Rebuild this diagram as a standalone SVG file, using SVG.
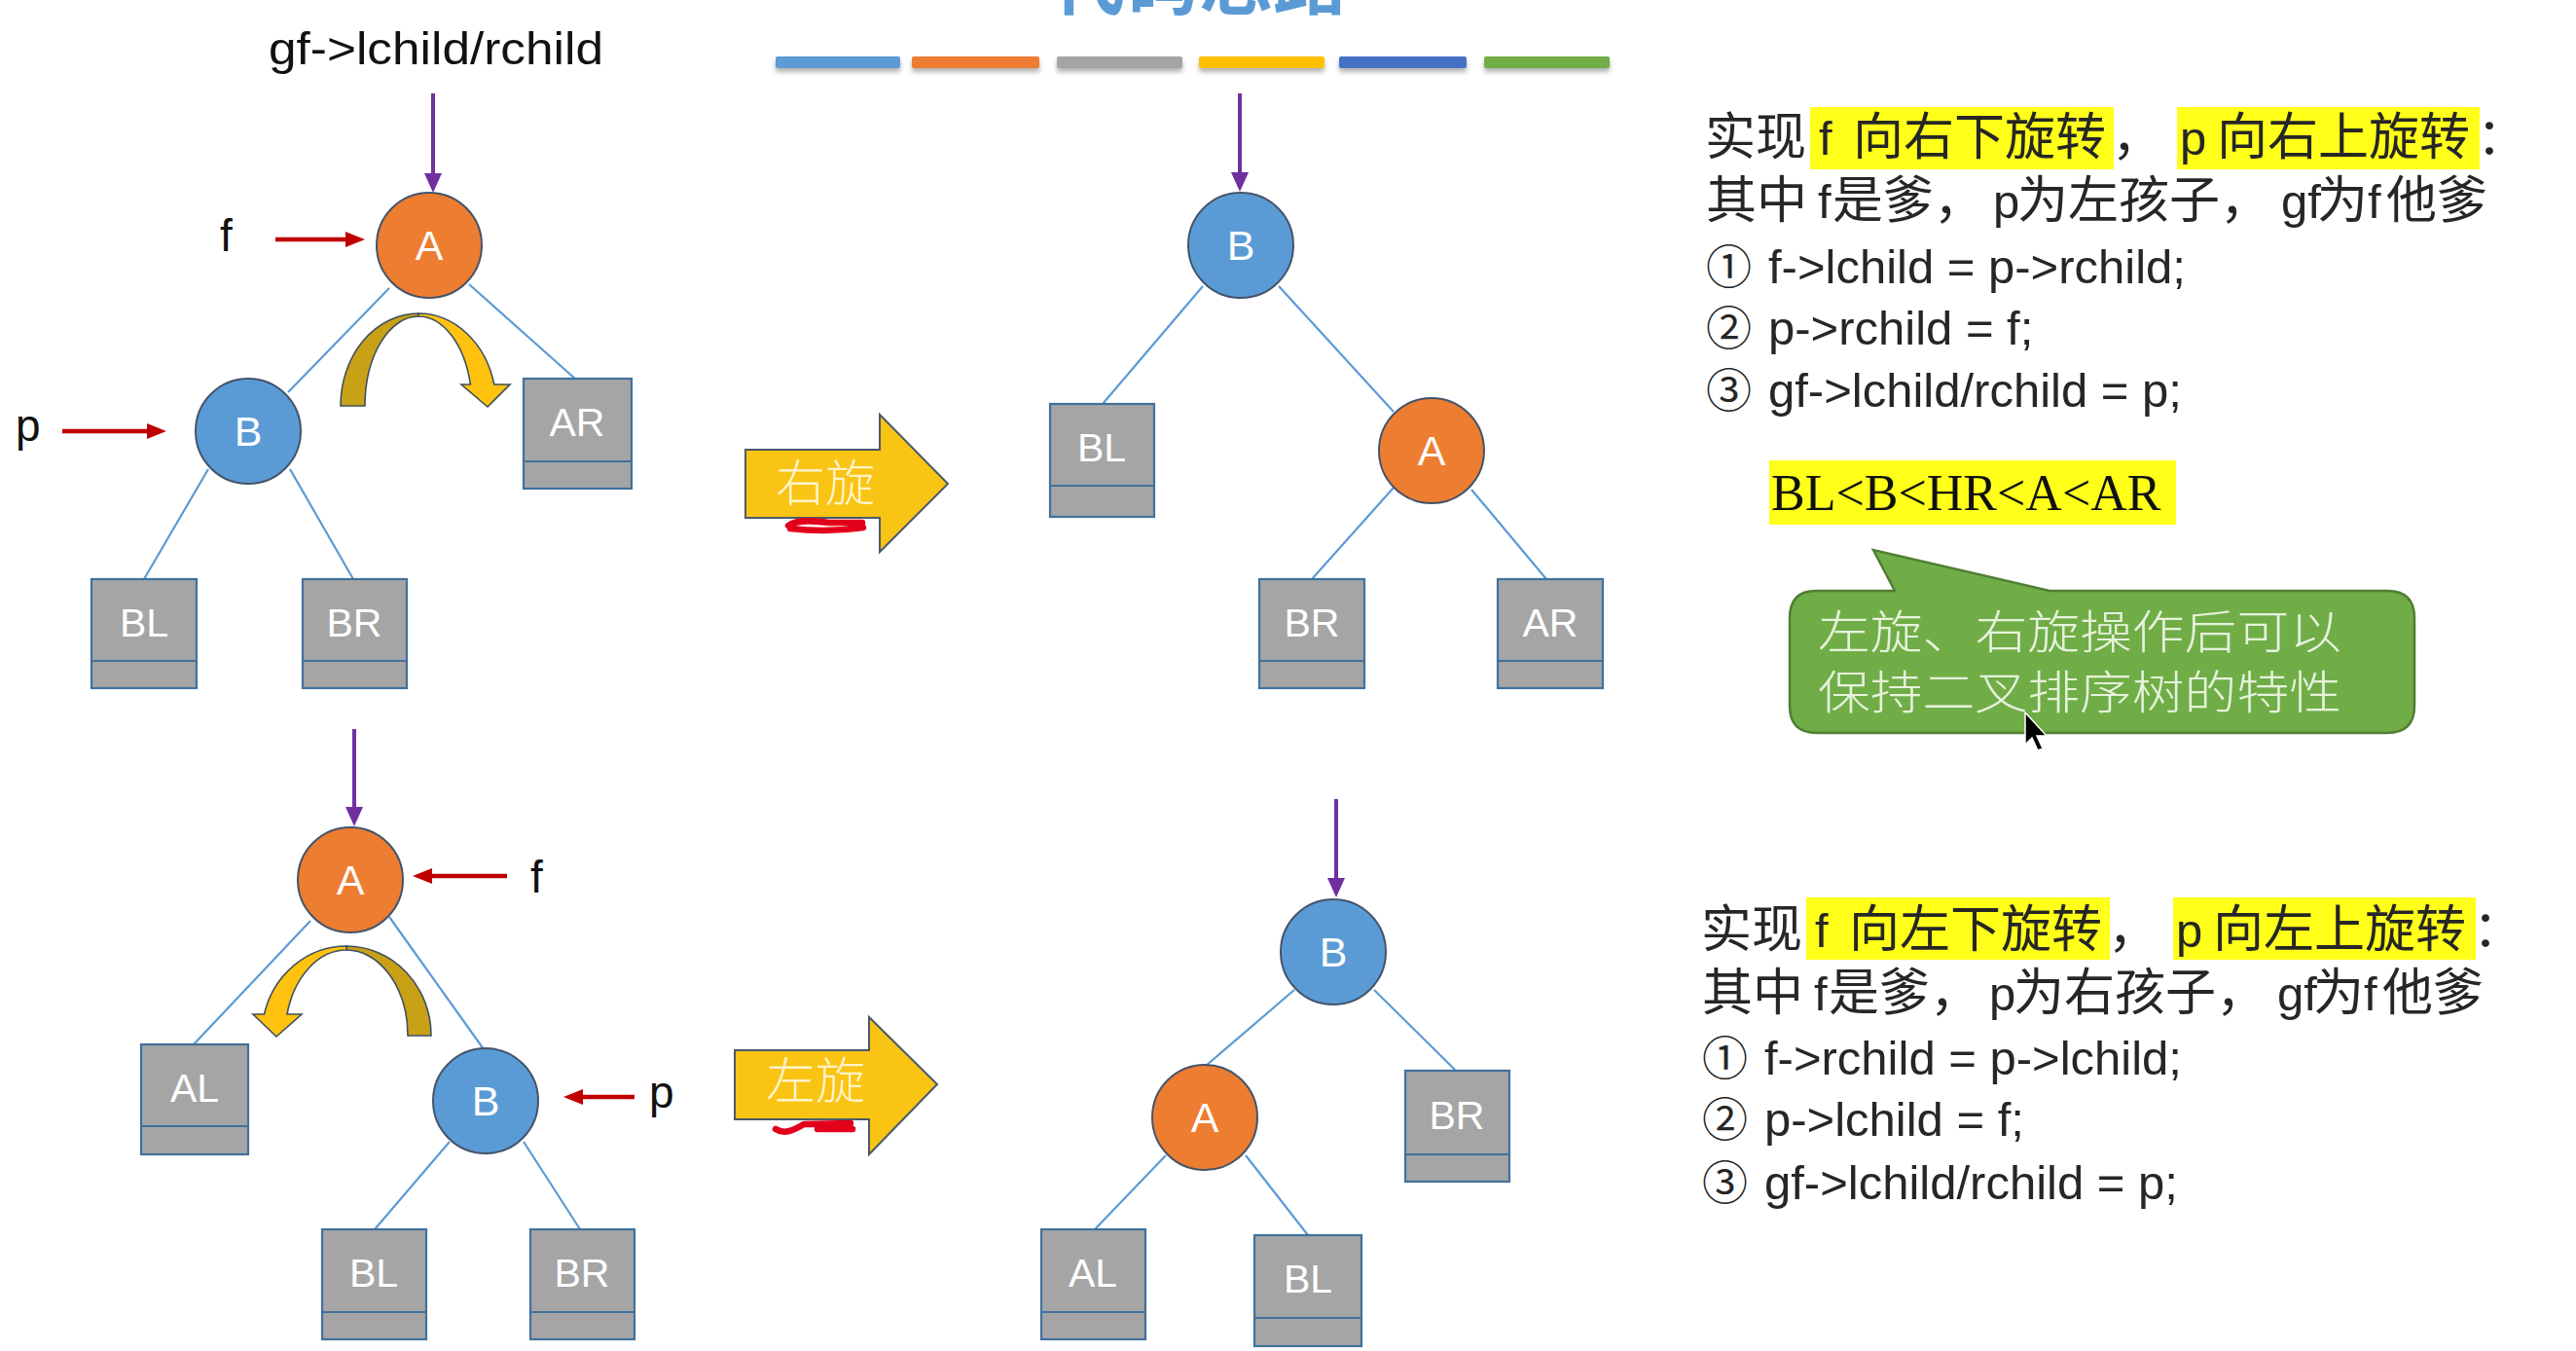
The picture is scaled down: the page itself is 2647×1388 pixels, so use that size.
<svg xmlns="http://www.w3.org/2000/svg" width="2647" height="1388" viewBox="0 0 2647 1388">
<style>
.edge{stroke:#5B9BD5;stroke-width:2.2;fill:none}
.nA{fill:#ED7D31;stroke:#44546A;stroke-width:2}
.nB{fill:#5B9BD5;stroke:#44546A;stroke-width:2}
.box{fill:#A5A5A5;stroke:#41719C;stroke-width:2.2}
.div{stroke:#41719C;stroke-width:2.2}
.lbl{font-family:"Liberation Sans",Arial,sans-serif;font-size:43px;fill:#FFFFFF;text-anchor:middle}
.blbl{font-family:"Liberation Sans",Arial,sans-serif;font-size:41px;fill:#FFFFFF;text-anchor:middle}
.ptr{font-family:"Liberation Sans",Arial,sans-serif;font-size:46px;fill:#111}
.purple{stroke:#7030A0;stroke-width:4;fill:none}
.red{stroke:#C00000;stroke-width:4.5;fill:none}
.t{font-family:"Liberation Sans",Arial,"Noto Sans CJK SC",sans-serif;font-size:49px;fill:#262626}
.cj{font-family:"Noto Sans CJK SC","Noto Sans CJK TC",sans-serif;font-size:52px}
.cn{font-family:"Noto Sans CJK SC","Noto Sans CJK TC",sans-serif;font-size:47px}
.hl{fill:#FFFF1A}
.dk{fill:#C9A116;stroke:#3F5060;stroke-width:1.6}
.lt{fill:#FFC20E;stroke:#3F5060;stroke-width:1.6}
.blk{fill:#F9C414;stroke:#4A5A6A;stroke-width:2}
.blkt{font-family:"Noto Sans CJK SC",sans-serif;font-size:51px;fill:#FFF3C8;font-weight:300}
.scrib{stroke:#E3001B;stroke-width:6.5;fill:none;stroke-linecap:round;stroke-linejoin:round}
.bar{filter:url(#sh)}
</style>
<defs>
<filter id="sh" x="-5%" y="-60%" width="110%" height="260%">
<feDropShadow dx="0" dy="4" stdDeviation="2.5" flood-color="#000" flood-opacity="0.3"/>
</filter>
<marker id="mp" markerUnits="userSpaceOnUse" viewBox="0 0 20 18" markerWidth="20" markerHeight="18" refX="6" refY="9" orient="auto">
<path d="M0,0 L20,9 L0,18 Z" fill="#7030A0"/>
</marker>
<marker id="mr" markerUnits="userSpaceOnUse" viewBox="0 0 20 16" markerWidth="20" markerHeight="16" refX="6" refY="8" orient="auto">
<path d="M0,0 L20,8 L0,16 Z" fill="#C00000"/>
</marker>
</defs>
<rect width="2647" height="1388" fill="#FFFFFF"/>

<!-- title (cut off at the top edge, as in the picture) -->
<text x="1232" y="9" font-family="'Noto Sans CJK SC',sans-serif" font-size="76" font-weight="700" fill="#5B9BD5" text-anchor="middle">代码思路</text>

<!-- colour bars -->
<g id="bars">
<rect class="bar" x="797" y="58" width="128" height="12" rx="2" fill="#5B9BD5"/>
<rect class="bar" x="937" y="58" width="131" height="12" rx="2" fill="#ED7D31"/>
<rect class="bar" x="1086" y="58" width="129" height="12" rx="2" fill="#A5A5A5"/>
<rect class="bar" x="1232" y="58" width="129" height="12" rx="2" fill="#FFC000"/>
<rect class="bar" x="1376" y="58" width="131" height="12" rx="2" fill="#4472C4"/>
<rect class="bar" x="1525" y="58" width="129" height="12" rx="2" fill="#70AD47"/>
</g>

<!-- connectors -->
<g id="connectors">
<line class="edge" x1="400" y1="296" x2="296" y2="403"/>
<line class="edge" x1="482" y1="292" x2="592" y2="390"/>
<line class="edge" x1="214" y1="482" x2="148" y2="595"/>
<line class="edge" x1="298" y1="482" x2="363" y2="595"/>
<line class="edge" x1="1236" y1="294" x2="1133" y2="415"/>
<line class="edge" x1="1314" y1="294" x2="1432" y2="423"/>
<line class="edge" x1="1432" y1="501" x2="1348" y2="595"/>
<line class="edge" x1="1512" y1="503" x2="1589" y2="595"/>
<line class="edge" x1="319" y1="946" x2="199" y2="1073"/>
<line class="edge" x1="400" y1="942" x2="497" y2="1078"/>
<line class="edge" x1="462" y1="1173" x2="385" y2="1263"/>
<line class="edge" x1="538" y1="1173" x2="596" y2="1263"/>
<line class="edge" x1="1330" y1="1017" x2="1239" y2="1095"/>
<line class="edge" x1="1412" y1="1017" x2="1496" y2="1100"/>
<line class="edge" x1="1198" y1="1187" x2="1125" y2="1263"/>
<line class="edge" x1="1280" y1="1187" x2="1344" y2="1269"/>
<line class="purple" x1="445" y1="96" x2="445" y2="184" marker-end="url(#mp)"/>
<line class="purple" x1="1274" y1="96" x2="1274" y2="183" marker-end="url(#mp)"/>
<line class="purple" x1="364" y1="749" x2="364" y2="835" marker-end="url(#mp)"/>
<line class="purple" x1="1373" y1="821" x2="1373" y2="908" marker-end="url(#mp)"/>
<line class="red" x1="283" y1="246" x2="361" y2="246" marker-end="url(#mr)"/>
<line class="red" x1="64" y1="443" x2="157" y2="443" marker-end="url(#mr)"/>
<line class="red" x1="521" y1="900" x2="438" y2="900" marker-end="url(#mr)"/>
<line class="red" x1="652" y1="1127" x2="593" y2="1127" marker-end="url(#mr)"/>
</g>

<!-- pointer labels -->
<text class="ptr" x="276" y="66" font-size="50" textLength="344" lengthAdjust="spacingAndGlyphs">gf-&gt;lchild/rchild</text>
<text class="ptr" x="226" y="258">f</text>
<text class="ptr" x="16" y="453">p</text>
<text class="ptr" x="545" y="917">f</text>
<text class="ptr" x="667" y="1138">p</text>

<!-- curved rotation arrows -->
<g id="curve-top">
<path class="dk" d="M350,417 A80,95 0 0 1 430,322 L430,325 A55,92 0 0 0 375,417 Z"/>
<path class="lt" d="M430,322 A80,95 0 0 1 507.8,395 L524,395 L501,418 L474,395 L483.4,395 A55,92 0 0 0 430,325 Z"/>
</g>
<g id="curve-bottom">
<path class="dk" d="M356,972 A87,92 0 0 1 443,1064 L419,1064 A63,88 0 0 0 356,976 Z"/>
<path class="lt" d="M356,972 A87,92 0 0 0 271.5,1042 L260,1042 L284,1065 L310,1042 L295,1042 A63,88 0 0 1 356,976 Z"/>
</g>

<!-- top-left tree -->
<g id="tl-A"><circle class="nA" cx="441" cy="252" r="54"/><text class="lbl" x="441" y="267">A</text></g>
<g id="tl-B"><circle class="nB" cx="255" cy="443" r="54"/><text class="lbl" x="255" y="458">B</text></g>
<g id="tl-AR"><rect class="box" x="538" y="389" width="111" height="113"/><line class="div" x1="538" y1="474" x2="649" y2="474"/><text class="blbl" x="593" y="448">AR</text></g>
<g id="tl-BL"><rect class="box" x="94" y="595" width="108" height="112"/><line class="div" x1="94" y1="679" x2="202" y2="679"/><text class="blbl" x="148" y="654">BL</text></g>
<g id="tl-BR"><rect class="box" x="311" y="595" width="107" height="112"/><line class="div" x1="311" y1="679" x2="418" y2="679"/><text class="blbl" x="364" y="654">BR</text></g>

<!-- top-middle tree -->
<g id="tm-B"><circle class="nB" cx="1275" cy="252" r="54"/><text class="lbl" x="1275" y="267">B</text></g>
<g id="tm-A"><circle class="nA" cx="1471" cy="463" r="54"/><text class="lbl" x="1471" y="478">A</text></g>
<g id="tm-BL"><rect class="box" x="1079" y="415" width="107" height="116"/><line class="div" x1="1079" y1="499" x2="1186" y2="499"/><text class="blbl" x="1132" y="474">BL</text></g>
<g id="tm-BR"><rect class="box" x="1294" y="595" width="108" height="112"/><line class="div" x1="1294" y1="679" x2="1402" y2="679"/><text class="blbl" x="1348" y="654">BR</text></g>
<g id="tm-AR"><rect class="box" x="1539" y="595" width="108" height="112"/><line class="div" x1="1539" y1="679" x2="1647" y2="679"/><text class="blbl" x="1593" y="654">AR</text></g>

<!-- bottom-left tree -->
<g id="bl-A"><circle class="nA" cx="360" cy="904" r="54"/><text class="lbl" x="360" y="919">A</text></g>
<g id="bl-B"><circle class="nB" cx="499" cy="1131" r="54"/><text class="lbl" x="499" y="1146">B</text></g>
<g id="bl-AL"><rect class="box" x="145" y="1073" width="110" height="113"/><line class="div" x1="145" y1="1157" x2="255" y2="1157"/><text class="blbl" x="200" y="1132">AL</text></g>
<g id="bl-BL"><rect class="box" x="331" y="1263" width="107" height="113"/><line class="div" x1="331" y1="1348" x2="438" y2="1348"/><text class="blbl" x="384" y="1322">BL</text></g>
<g id="bl-BR"><rect class="box" x="545" y="1263" width="107" height="113"/><line class="div" x1="545" y1="1348" x2="652" y2="1348"/><text class="blbl" x="598" y="1322">BR</text></g>

<!-- bottom-middle tree -->
<g id="bm-B"><circle class="nB" cx="1370" cy="978" r="54"/><text class="lbl" x="1370" y="993">B</text></g>
<g id="bm-A"><circle class="nA" cx="1238" cy="1148" r="54"/><text class="lbl" x="1238" y="1163">A</text></g>
<g id="bm-BR"><rect class="box" x="1444" y="1100" width="107" height="114"/><line class="div" x1="1444" y1="1186" x2="1551" y2="1186"/><text class="blbl" x="1497" y="1160">BR</text></g>
<g id="bm-AL"><rect class="box" x="1070" y="1263" width="107" height="113"/><line class="div" x1="1070" y1="1348" x2="1177" y2="1348"/><text class="blbl" x="1123" y="1322">AL</text></g>
<g id="bm-BL"><rect class="box" x="1289" y="1269" width="110" height="114"/><line class="div" x1="1289" y1="1354" x2="1399" y2="1354"/><text class="blbl" x="1344" y="1328">BL</text></g>

<!-- block arrows -->
<g id="arrow-right-rot">
<polygon class="blk" points="766,462 904,462 904,426 974,497 904,567 904,532 766,532"/>
<text class="blkt" x="797" y="515">右旋</text>
<path class="scrib" d="M810,540 C818,534 838,535 852,537 L886,537 M812,543 C838,546 866,545 887,542"/>
</g>
<g id="arrow-left-rot">
<polygon class="blk" points="755,1079 893,1079 893,1045 963,1114 893,1186 893,1150 755,1150"/>
<text class="blkt" x="787" y="1129">左旋</text>
<path class="scrib" d="M797,1160 C806,1166 816,1161 826,1155 L874,1154 M840,1160 L876,1160"/>
</g>

<!-- right-rotation explanation -->
<g id="text-top">
<rect class="hl" x="1860" y="110" width="312" height="64"/>
<rect class="hl" x="2237" y="110" width="311" height="64"/>
<text class="t" y="159"><tspan class="cj" x="1752">实现</tspan><tspan x="1869">f</tspan><tspan class="cj" x="1904">向右下旋转</tspan><tspan class="cj" x="2170">，</tspan><tspan x="2240">p</tspan><tspan class="cj" x="2278">向右上旋转</tspan><tspan class="cj" x="2545">：</tspan></text>
<text class="t" y="224"><tspan class="cj" x="1753">其中</tspan><tspan x="1868">f</tspan><tspan class="cj" x="1883">是爹，</tspan><tspan x="2048">p</tspan><tspan class="cj" x="2073">为左孩子，</tspan><tspan x="2344">gf</tspan><tspan class="cj" x="2381">为</tspan><tspan x="2433">f</tspan><tspan class="cj" x="2452">他爹</tspan></text>
<text class="t" y="291"><tspan class="cn" x="1753">①</tspan><tspan x="1817">f-&gt;lchild = p-&gt;rchild;</tspan></text>
<text class="t" y="354"><tspan class="cn" x="1753">②</tspan><tspan x="1817">p-&gt;rchild = f;</tspan></text>
<text class="t" y="418"><tspan class="cn" x="1753">③</tspan><tspan x="1817">gf-&gt;lchild/rchild = p;</tspan></text>
<rect class="hl" x="1818" y="473" width="418" height="66"/>
<text x="1820" y="524" font-family="'Liberation Serif','Times New Roman',serif" font-size="52" fill="#111">BL&lt;B&lt;HR&lt;A&lt;AR</text>
</g>

<!-- callout -->
<g id="callout">
<path d="M1866,607 L1947,607 L1925,565 L2106,607 L2453,607 Q2481,607 2481,635 L2481,725 Q2481,753 2453,753 L1867,753 Q1839,753 1839,725 L1839,635 Q1839,607 1866,607 Z" fill="#70AD47" stroke="#507E32" stroke-width="2.5"/>
<text x="1868" y="666" font-family="'Noto Sans CJK SC',sans-serif" font-size="47" font-weight="300" fill="#E6F2DC" textLength="538" lengthAdjust="spacingAndGlyphs">左旋、右旋操作后可以</text>
<text x="1868" y="728" font-family="'Noto Sans CJK SC',sans-serif" font-size="47" font-weight="300" fill="#E6F2DC" textLength="538" lengthAdjust="spacingAndGlyphs">保持二叉排序树的特性</text>
<polygon points="2081,732 2081,765 2088,758 2094,771 2099,769 2093,756 2103,756" fill="#000" stroke="#FFF" stroke-width="1.5"/>
</g>

<!-- left-rotation explanation -->
<g id="text-bottom">
<rect class="hl" x="1856" y="922" width="312" height="64"/>
<rect class="hl" x="2233" y="922" width="311" height="64"/>
<text class="t" y="973"><tspan class="cj" x="1748">实现</tspan><tspan x="1865">f</tspan><tspan class="cj" x="1900">向左下旋转</tspan><tspan class="cj" x="2166">，</tspan><tspan x="2236">p</tspan><tspan class="cj" x="2274">向左上旋转</tspan><tspan class="cj" x="2541">：</tspan></text>
<text class="t" y="1038"><tspan class="cj" x="1749">其中</tspan><tspan x="1864">f</tspan><tspan class="cj" x="1879">是爹，</tspan><tspan x="2044">p</tspan><tspan class="cj" x="2069">为右孩子，</tspan><tspan x="2340">gf</tspan><tspan class="cj" x="2377">为</tspan><tspan x="2429">f</tspan><tspan class="cj" x="2448">他爹</tspan></text>
<text class="t" y="1104"><tspan class="cn" x="1749">①</tspan><tspan x="1813">f-&gt;rchild = p-&gt;lchild;</tspan></text>
<text class="t" y="1167"><tspan class="cn" x="1749">②</tspan><tspan x="1813">p-&gt;lchild = f;</tspan></text>
<text class="t" y="1232"><tspan class="cn" x="1749">③</tspan><tspan x="1813">gf-&gt;lchild/rchild = p;</tspan></text>
</g>
</svg>
